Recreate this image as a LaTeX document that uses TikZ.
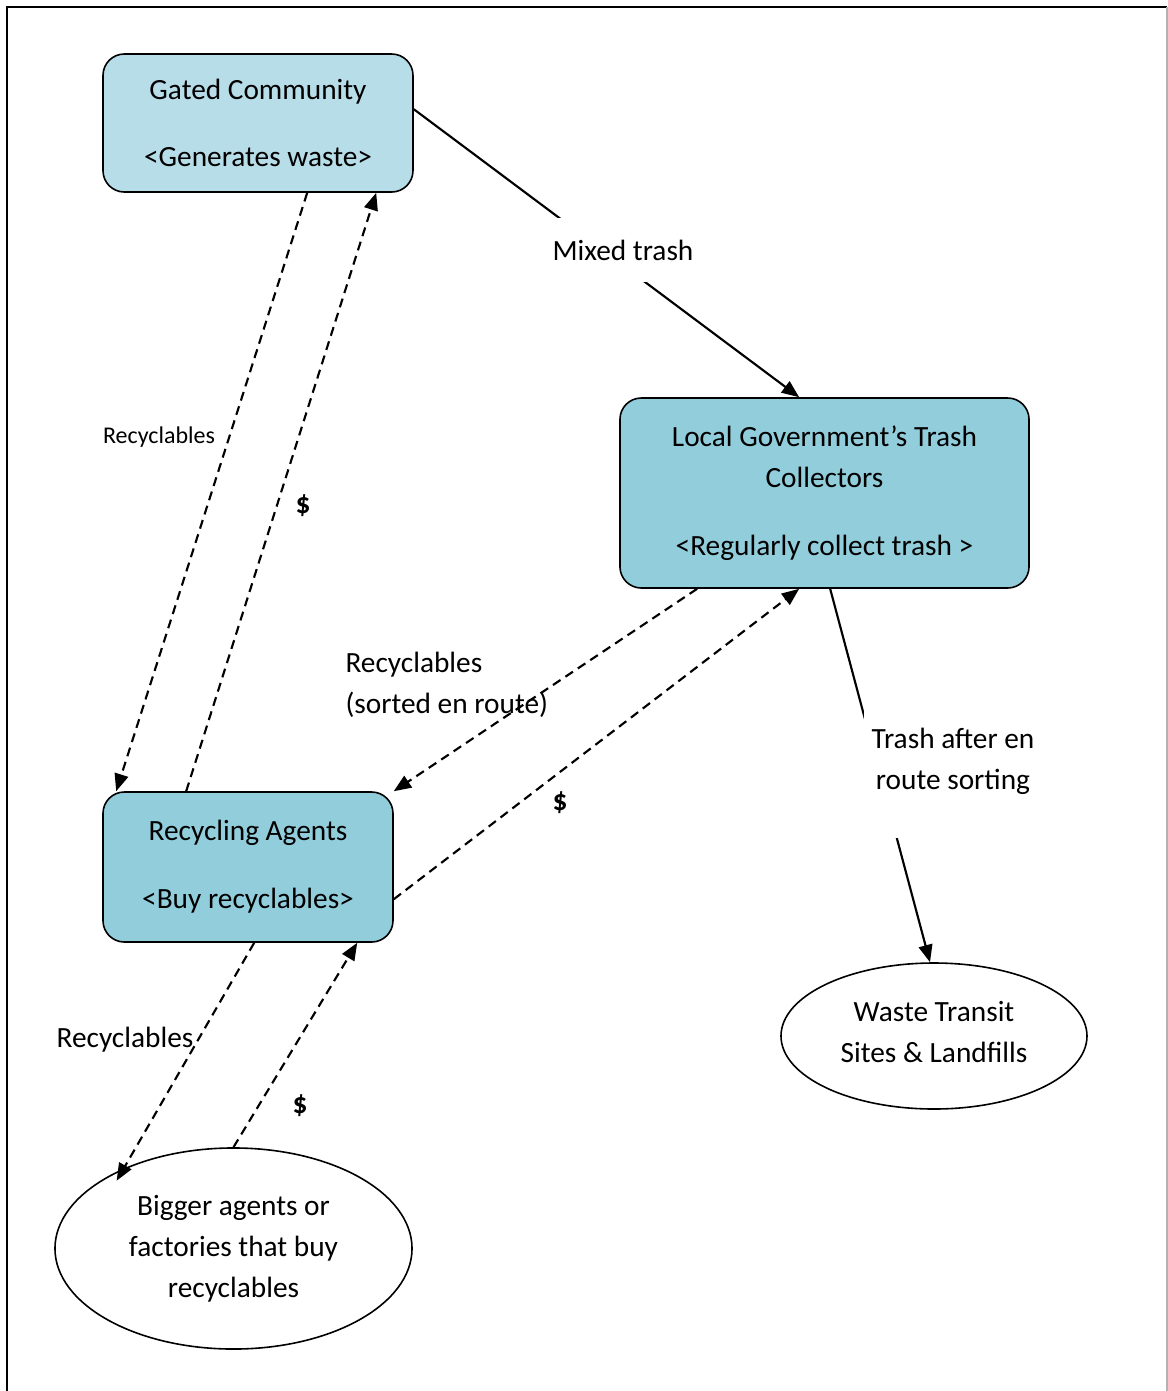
\documentclass[tikz,border=0pt]{standalone}
\usepackage{fontspec}
\setmainfont{Carlito}
\usetikzlibrary{arrows.meta, calc, shapes.geometric}
\definecolor{gcblue}{RGB}{183,221,232}
\definecolor{boxblue}{RGB}{146,205,220}
\tikzset{
    >={Triangle[length=6.5pt,width=5.2pt]}, % filled arrow heads
    txt/.style={font=\fontsize{11}{15.4}\selectfont}, % base text size
    box/.style={txt, draw, line width=0.6pt, rounded corners=8pt, align=center, fill=boxblue, inner sep=0pt},
    oval/.style={txt, draw, ellipse, line width=0.6pt, align=center, inner sep=0pt},
    flow/.style={->, line width=0.8pt}, % solid connector
    dflow/.style={flow, dash pattern=on 3.4pt off 2.2pt}, % dashed connector
    lbl/.style={txt, align=center, inner sep=0pt},
    money/.style={lbl, font=\fontsize{11}{15.4}\selectfont\bfseries},
}
\begin{document}
\begin{tikzpicture}[x=0.375pt, y=-0.375pt]
    \useasboundingbox (0,0) rectangle (1168,1391);
    % frame
    \draw[line width=0.8pt] (7,1391) -- (7,7) -- (1167,7);
    \draw[gray!60, line width=0.6pt] (1167,7) -- (1167,1391);

    % actors
    \node[box, fill=gcblue, minimum width=116.25pt, minimum height=51.75pt] (gc) at (258,123)
        {Gated Community\\[10pt]<Generates waste>};
    \node[box, minimum width=153.4pt, minimum height=71.25pt] (lg) at (824.5,493)
        {Local Government’s Trash\\Collectors\\[10pt]<Regularly collect trash >};
    \node[box, minimum width=108.75pt, minimum height=56.25pt] (ra) at (248,867)
        {Recycling Agents\\[10pt]<Buy recyclables>};
    \node[oval, minimum width=114.75pt, minimum height=54.75pt] (wt) at (934,1036)
        {Waste Transit\\Sites \& Landfills\\[-12pt]\mbox{}};
    \node[oval, minimum width=133.9pt, minimum height=75.4pt] (ba) at (233.5,1248.5)
        {Bigger agents or\\factories that buy\\recyclables};

    % flows
    \draw[flow] ($(gc.north east)+(0,56)$) -- ($(lg.north west)+(180,0)$);
    \draw[dflow] ($(gc.south west)+(205,0)$) -- ($(ra.north west)+(14,0)$);
    \draw[dflow] ($(ra.north west)+(84,0)$) -- ($(gc.south west)+(274,0)$);
    \draw[dflow] ($(lg.south west)+(78,0)$) -- (ra.north east);
    \draw[dflow] ($(ra.north east)+(0,108)$) -- ($(lg.south west)+(180,0)$);
    \draw[flow] ($(lg.south west)+(211,0)$) -- ($(wt.north)+(-4,0)$);
    \draw[dflow] ($(ra.south west)+(152,0)$) -- ($(ba.149)+(6,6)$);
    \draw[dflow] (ba.north) -- ($(ra.south west)+(255,0)$);

    % labels
    \node[lbl, fill=white, minimum height=24pt, inner xsep=2pt] (mt) at (623,250) {Mixed trash};
    \node[lbl, font=\fontsize{9}{11}\selectfont] (rc1) at (159,437) {Recyclables};
    \node[money] (usd1) at (303,506) {\$};
    \node[lbl, align=left, anchor=west] (rc2) at (345,685) {Recyclables\\(sorted en route)};
    \node[money] (usd2) at (560,803) {\$};
    \node[lbl, fill=white, minimum height=48pt, inner xsep=3pt] (ts) at (953,774)
        {Trash after en\\route sorting\\[-4pt]\mbox{}};
    \node[lbl] (rc3) at (125,1040) {Recyclables};
    \node[money] (usd3) at (300,1106) {\$};
\end{tikzpicture}
\end{document}
